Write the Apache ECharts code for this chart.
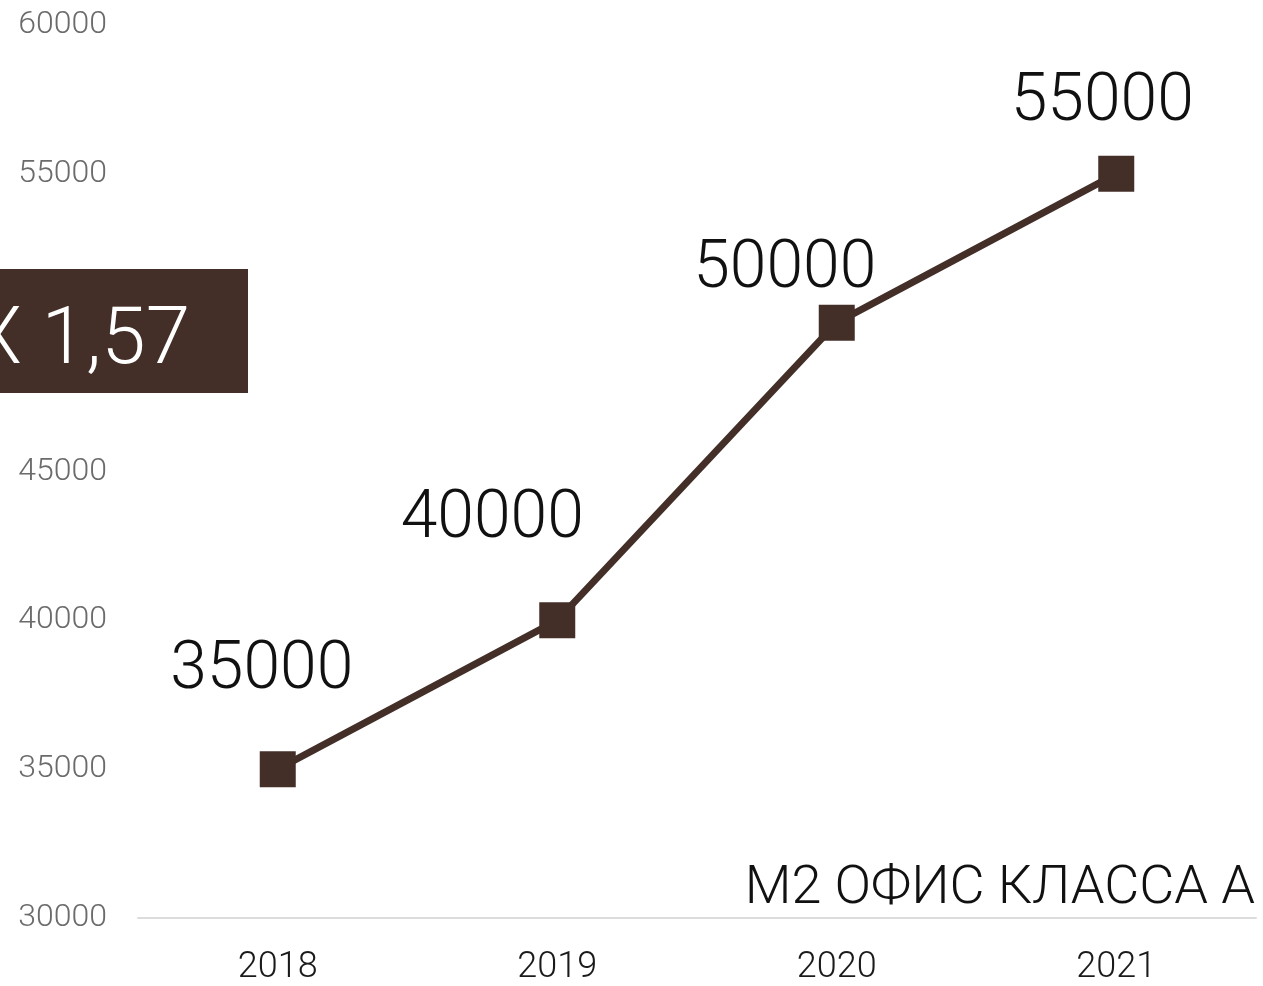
<!DOCTYPE html>
<html>
<head>
<meta charset="utf-8">
<script src="https://cdn.jsdelivr.net/npm/echarts@6/dist/echarts.min.js"></script>
<style>
  html, body { margin: 0; padding: 0; background: #fff; }
  #chart { width: 1263px; height: 986px; }
</style>
</head>
<body>
<div id="chart"></div>
<script>
// данные
const years = ['2018', '2019', '2020', '2021']
const prices = [35000, 40000, 50000, 55000]
const growthText = 'X 1,57'
const unitText = 'М2 ОФИС КЛАССА А'

// сдвиг подписей относительно маркера
const labelShift = [[-16, -98], [-65, -100], [-52, -52], [-14, -70]]

const brown = '#432f28'
const chart = echarts.init(document.getElementById('chart'))

const seriesData = prices.map((v, i) => {
    return {
        value: v,
        label: { offset: labelShift[i] }
    }
})

chart.setOption({
    animation: false,
    grid: { left: 138, right: 7, top: 25, bottom: 66 },
    xAxis: {
        type: 'category',
        data: years,
        axisLine: { lineStyle: { color: '#dcdcdc', width: 2 } },
        axisTick: { show: false },
        axisLabel: {
            margin: 32,
            color: '#1a1a1a',
            fontSize: 36,
            fontFamily: 'Roboto',
            fontWeight: 300
        }
    },
    yAxis: {
        type: 'value',
        min: 30000,
        max: 60000,
        interval: 5000,
        splitLine: { show: false },
        axisLine: { show: false },
        axisTick: { show: false },
        axisLabel: {
            margin: 31,
            color: '#6b6b6b',
            fontSize: 32,
            fontFamily: 'Roboto',
            fontWeight: 300,
            formatter: v => String(v)
        }
    },
    series: [{
        type: 'line',
        data: seriesData,
        symbol: 'rect',
        symbolSize: 36,
        lineStyle: { color: brown, width: 7 },
        itemStyle: { color: brown },
        label: {
            show: true,
            position: 'inside',
            color: '#111',
            fontSize: 66,
            fontFamily: 'Roboto',
            fontWeight: 300
        }
    }],
    graphic: [
        {
            type: 'rect',
            left: 0,
            top: 269,
            shape: { width: 248, height: 124 },
            style: { fill: brown },
            z: 10
        },
        {
            type: 'text',
            right: 1263 - 190,
            top: 303,
            style: {
                text: growthText,
                fill: '#fff',
                fontSize: 80,
                fontFamily: 'Roboto',
                fontWeight: 300
            },
            z: 11
        },
        {
            type: 'text',
            right: 8,
            top: 862,
            style: {
                text: unitText,
                fill: '#111',
                fontSize: 54,
                fontFamily: 'Roboto',
                fontWeight: 300
            },
            z: 11
        }
    ]
})
</script>
</body>
</html>
